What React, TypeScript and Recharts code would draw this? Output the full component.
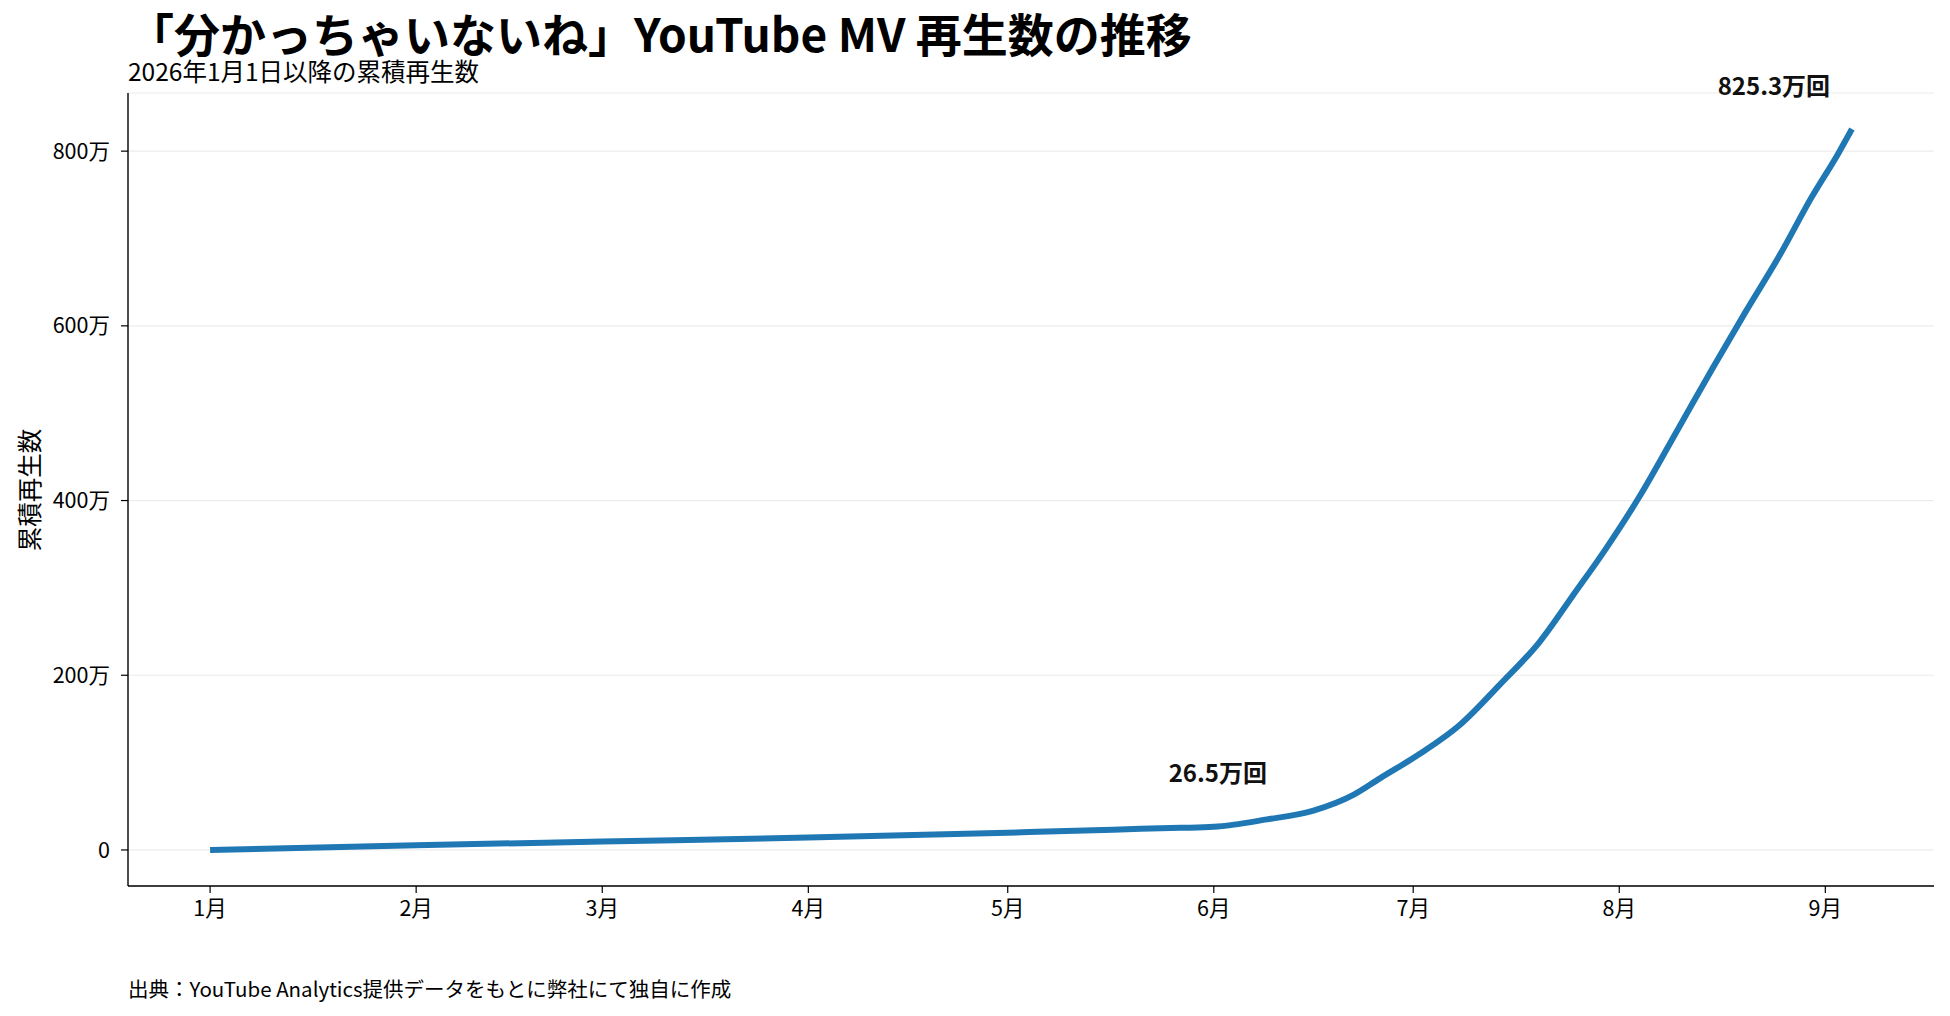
import { LineChart, Line, XAxis, YAxis, CartesianGrid } from "recharts";

const dates = [
  "2026-01-01", "2026-02-01", "2026-03-01", "2026-04-01", "2026-05-01", "2026-05-14",
  "2026-05-21", "2026-05-27", "2026-06-01", "2026-06-09", "2026-06-16", "2026-06-22",
  "2026-06-26", "2026-07-02", "2026-07-08", "2026-07-14", "2026-07-20", "2026-07-25",
  "2026-07-30", "2026-08-04", "2026-08-10", "2026-08-15", "2026-08-20", "2026-08-25",
  "2026-08-30", "2026-09-03", "2026-09-05",
];
// 万回
const views = [
  0, 5.4, 9.6, 14.2, 19.8, 22.5,
  24.3, 25.3, 26.5, 35, 45, 63,
  82, 110, 143, 189, 238, 291,
  345, 404, 484, 551, 616, 679,
  748, 798, 825.3,
];
const labelledDates = ["2026-06-01", "2026-09-05"];

const monthStarts = ["2026-01-01", "2026-02-01", "2026-03-01", "2026-04-01", "2026-05-01", "2026-06-01", "2026-07-01", "2026-08-01", "2026-09-01"];
const monthLabels = ["1月", "2月", "3月", "4月", "5月", "6月", "7月", "8月", "9月"];
const yTicks = [0, 200, 400, 600, 800];

const DAY = 86400000;
const t0 = Date.UTC(2026, 0, 1);
const toDay = (s: string) => (Date.parse(s + "T00:00:00Z") - t0) / DAY;

const data = dates.map((d, i) => ({ day: toDay(d), views: views[i], date: d }));
const xTicks = monthStarts.map(toDay);

const FONT = "'Noto Sans CJK JP', 'Noto Sans', sans-serif";
const BLUE = "#1f77b4";

// matplotlib-style 5% padding
const xMin = data[0].day, xMax = data[data.length - 1].day;
const yMax = Math.max(...views);
const xPad = (xMax - xMin) * 0.05, yPad = yMax * 0.05;

function PointLabel(props: any) {
  const { x, y, index } = props;
  const p = data[index];
  if (!p || !labelledDates.includes(p.date)) return null;
  const last = index === data.length - 1;
  const dx = last ? -78 : 4;
  const dy = last ? -45 : -55;
  return (
    <text x={x + dx} y={y + dy} textAnchor="middle" dominantBaseline="central"
      fontFamily={FONT} fontWeight={700} fontSize={24} fill="#111">
      {`${p.views}万回`}
    </text>
  );
}

export default function App() {
  return (
    <div style={{ position: "relative", width: 1950, height: 1016, background: "#fff", fontFamily: FONT }}>
      <style>{"body{margin:0}"}</style>
      <LineChart width={1950} height={1016} data={data}
        margin={{ top: 93, right: 16, bottom: 90, left: 28 }}>
        <CartesianGrid vertical={false} stroke="#ececec" strokeWidth={1.2} />
        <XAxis type="number" dataKey="day" domain={[xMin - xPad, xMax + xPad]} allowDataOverflow
          ticks={xTicks} tickFormatter={(v) => monthLabels[xTicks.indexOf(v)] ?? ""}
          height={40} tickSize={7} tickMargin={8}
          axisLine={{ stroke: "#000", strokeWidth: 1.4 }} tickLine={{ stroke: "#000", strokeWidth: 1.2 }}
          tick={{ fill: "#000", fontSize: 21.5, fontFamily: FONT }} />
        <YAxis type="number" domain={[-yPad, yMax + yPad]} allowDataOverflow ticks={yTicks}
          tickFormatter={(v) => (v === 0 ? "0" : `${v}万`)}
          width={100} tickSize={7} tickMargin={11}
          axisLine={{ stroke: "#000", strokeWidth: 1.4 }} tickLine={{ stroke: "#000", strokeWidth: 1.2 }}
          tick={{ fill: "#000", fontSize: 21.5, fontFamily: FONT }} />
        <Line type="monotone" dataKey="views" stroke={BLUE} strokeWidth={6} dot={false}
          strokeLinecap="butt" isAnimationActive={false} label={<PointLabel />} />
      </LineChart>
      <svg width={1950} height={1016} style={{ position: "absolute", left: 0, top: 0, pointerEvents: "none" }}>
        <text x={128} y={52} fontFamily={FONT} fontWeight={700} fontSize={46} fill="#000">
          「分かっちゃいないね」YouTube MV 再生数の推移
        </text>
        <text x={128} y={81} fontFamily={FONT} fontSize={24.5} fill="#000">
          2026年1月1日以降の累積再生数
        </text>
        <text x={28} y={490} fontFamily={FONT} fontSize={24.5} fill="#000" textAnchor="middle"
          dominantBaseline="central" transform="rotate(-90 28 490)">
          累積再生数
        </text>
        <text x={128} y={997} fontFamily={FONT} fontSize={20.5} fill="#000">
          出典：YouTube Analytics提供データをもとに弊社にて独自に作成
        </text>
      </svg>
    </div>
  );
}
